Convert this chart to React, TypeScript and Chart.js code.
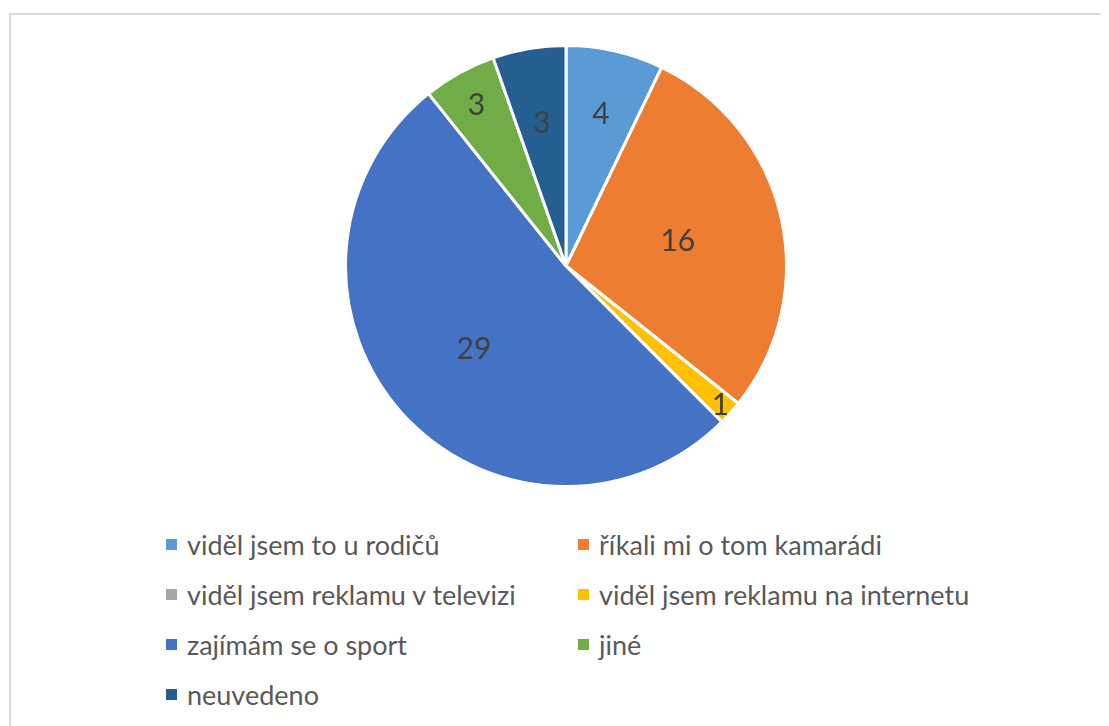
import React, { useEffect, useRef } from "react";
import { Chart, registerables } from "chart.js";

Chart.register(...registerables);

const categories = [
  "viděl jsem to u rodičů",
  "říkali mi o tom kamarádi",
  "viděl jsem reklamu v televizi",
  "viděl jsem reklamu na internetu",
  "zajímám se o sport",
  "jiné",
  "neuvedeno",
];
const values = [4, 16, 0, 1, 29, 3, 3];
const colors = ["#5B9BD5", "#ED7D31", "#A5A5A5", "#FFC000", "#4472C4", "#70AD47", "#255E91"];
// label distance from centre as fraction of radius (Excel best-fit placement)
const labelRadius = [0.71, 0.52, 0.7, 0.94, 0.56, 0.84, 0.66];

const FONT = "Lato, 'Open Sans', sans-serif";

const labelPlugin = {
  id: "sliceLabels",
  afterDatasetsDraw(chart: any) {
    const ctx = chart.ctx;
    const meta = chart.getDatasetMeta(0);
    ctx.save();
    ctx.fillStyle = "#404040";
    ctx.font = `30px ${FONT}`;
    ctx.textAlign = "center";
    ctx.textBaseline = "middle";
    meta.data.forEach((arc: any, i: number) => {
      const v = values[i];
      if (!v) return;
      const { x, y, startAngle, endAngle, outerRadius } = arc.getProps(
        ["x", "y", "startAngle", "endAngle", "outerRadius"],
        true
      );
      const mid = (startAngle + endAngle) / 2;
      const r = outerRadius * labelRadius[i];
      ctx.fillText(String(v), x + Math.cos(mid) * r, y + Math.sin(mid) * r + 1);
    });
    ctx.restore();
  },
};

export default function App() {
  const ref = useRef<HTMLCanvasElement>(null);
  useEffect(() => {
    if (!ref.current) return;
    const chart = new Chart(ref.current, {
      type: "pie",
      data: {
        labels: categories,
        datasets: [
          {
            data: values,
            backgroundColor: colors,
            borderColor: "#ffffff",
            borderWidth: 3,
          },
        ],
      },
      options: {
        animation: false,
        responsive: false,
        maintainAspectRatio: false,
        plugins: { legend: { display: false }, tooltip: { enabled: false } },
      },
      plugins: [labelPlugin],
    });
    return () => chart.destroy();
  }, []);

  const legendRows = [
    [0, 1],
    [2, 3],
    [4, 5],
    [6],
  ];

  return (
    <div
      style={{
        position: "relative",
        width: 1101,
        height: 718,
        overflow: "hidden",
        fontFamily: FONT,
      }}
    >
      <div
        style={{
          position: "absolute",
          left: 1,
          top: 5,
          width: 1200,
          height: 900,
          border: "2px solid #d9d9d9",
          boxSizing: "border-box",
        }}
      />
      <canvas
        ref={ref}
        width={444}
        height={444}
        style={{ position: "absolute", left: 336, top: 36, width: 444, height: 444 }}
      />
      {legendRows.map((row, ri) =>
        row.map((idx, ci) => (
          <div
            key={idx}
            style={{
              position: "absolute",
              left: ci === 0 ? 158 : 570,
              top: 536 + ri * 50 - 16,
              height: 32,
              display: "flex",
              alignItems: "center",
              whiteSpace: "nowrap",
            }}
          >
            <span
              style={{
                display: "inline-block",
                width: 11,
                height: 11,
                background: colors[idx],
                marginRight: 10,
              }}
            />
            <span style={{ fontSize: 27, color: "#595959" }}>{categories[idx]}</span>
          </div>
        ))
      )}
    </div>
  );
}
